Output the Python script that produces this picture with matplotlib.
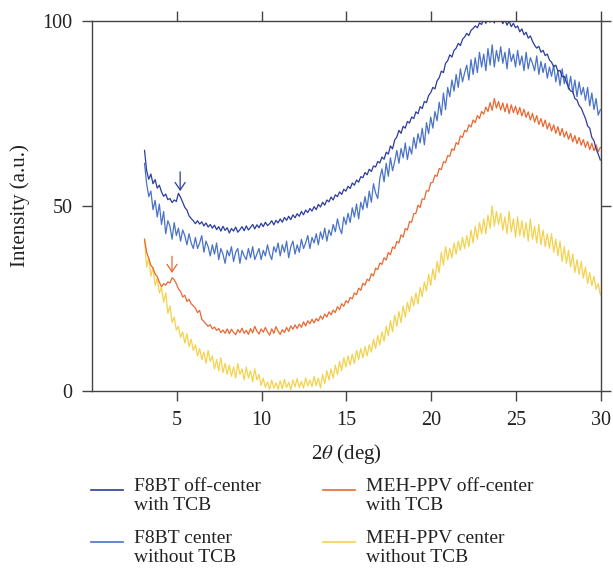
import numpy as np
import matplotlib
matplotlib.use('Agg')
import matplotlib.pyplot as plt
from matplotlib.lines import Line2D

plt.rcParams['font.family'] = ['Liberation Serif', 'DejaVu Serif']
plt.rcParams['mathtext.fontset'] = 'stix'

# 2theta scan grid (deg), 8 points per degree
two_theta = np.arange(3.1, 30.0, 0.125)

f8bt_off = [
    65.0, 59.5, 57.2, 58.6, 56.0, 57.1, 54.8, 55.6,
    53.8, 52.6, 53.2, 51.7, 52.0, 50.9, 51.6, 51.2,
    53.4, 52.3, 51.0, 49.6, 48.9, 47.3, 46.6, 46.0,
    45.2, 46.0, 45.1, 45.7, 44.6, 45.4, 44.3, 45.0,
    44.0, 44.8, 43.6, 44.4, 43.2, 44.5, 43.4, 44.1,
    42.7, 43.9, 43.2, 44.3, 42.9, 43.6, 44.4, 43.3,
    44.6, 43.5, 44.2, 45.0, 43.8, 44.9, 44.1, 45.3,
    44.4, 45.6, 44.7, 45.2, 46.0, 44.9, 46.1, 45.4,
    46.5, 45.6, 46.9, 46.1, 47.2, 46.3, 47.6, 46.8,
    47.9, 47.2, 48.5, 47.6, 48.9, 48.2, 49.3, 48.6,
    49.8, 49.0, 50.4, 49.7, 51.0, 50.2, 51.6, 51.1,
    52.4, 51.6, 53.0, 52.5, 53.8, 53.1, 54.5, 54.0,
    55.3, 54.7, 56.2, 55.6, 57.0, 56.4, 57.9, 57.6,
    59.0, 58.4, 59.9, 59.3, 60.8, 60.5, 62.0, 61.6,
    63.2, 62.6, 64.5, 64.0, 66.2, 65.4, 67.8, 68.6,
    70.4, 69.6, 71.5, 71.0, 72.8, 72.4, 74.0, 73.6,
    75.4, 74.9, 76.8, 76.3, 78.2, 77.9, 79.8, 80.6,
    82.0, 81.6, 83.8, 84.6, 86.4, 86.0, 88.5, 89.2,
    90.8, 90.2, 92.0, 92.6, 93.9, 93.3, 95.0, 95.6,
    96.6, 96.0, 97.4, 97.9, 98.6, 98.1, 99.4, 99.0,
    100.4, 99.3, 100.8, 99.6, 100.9, 99.4, 101.0, 99.8,
    100.6, 99.2, 100.3, 98.8, 99.9, 98.4, 99.3, 98.1,
    98.6, 97.0, 97.8, 96.2, 96.9, 95.3, 95.9, 94.5,
    93.4, 92.6, 93.1, 91.5, 92.0, 90.6, 91.0, 89.4,
    88.8, 87.6, 88.0, 86.4, 86.6, 84.9, 85.0, 83.4,
    82.0, 81.0, 80.9, 79.0, 78.6, 77.1, 76.4, 75.0,
    73.6, 71.6, 71.0, 68.5, 67.6, 65.4, 64.0, 62.4,
]

f8bt_center = [
    61.5, 56.0, 52.5, 54.0, 49.0, 51.5, 47.0, 50.5,
    45.0, 48.5, 42.5, 46.0, 44.5, 41.0, 45.5, 42.0,
    44.0, 40.5, 43.5, 42.0, 39.5, 42.5, 40.0, 38.5,
    41.5, 38.5, 40.0, 42.0, 37.5, 40.5, 39.0, 36.5,
    39.5, 37.0, 40.0, 35.5, 38.5, 37.0, 34.5, 38.0,
    36.5, 39.0, 35.0, 37.5, 38.5, 34.5, 38.0, 36.5,
    35.5, 38.5, 36.0, 39.0, 35.5, 37.0, 38.5, 35.5,
    38.0, 36.5, 39.5, 37.0, 35.5, 39.0, 37.5, 40.0,
    36.5, 39.5, 37.5, 40.5, 36.0, 39.0, 40.5, 37.0,
    39.5, 37.5, 41.0, 38.5, 40.0, 42.0, 38.5, 41.5,
    40.0, 42.5, 39.5, 43.0, 41.0, 44.0, 40.5, 43.5,
    42.0, 45.0, 43.0, 46.5, 44.0, 42.5, 47.0, 45.0,
    48.0, 45.5, 49.5, 47.0, 50.5, 46.5, 51.0, 49.0,
    52.5, 49.5, 54.0, 51.0, 56.0, 53.5, 52.0, 57.5,
    60.0, 56.5, 61.5, 58.0, 63.0, 59.5, 62.0, 65.0,
    61.5, 65.5, 63.0, 67.0, 62.5, 66.0, 64.0, 68.5,
    65.5, 69.5, 67.0, 71.0, 66.5, 72.5, 69.5, 74.0,
    71.0, 75.5, 73.0, 78.0, 74.5, 80.5, 76.0, 82.0,
    79.5, 84.0, 81.0, 85.5, 82.0, 87.0, 83.5, 86.0,
    88.0, 84.0, 89.5, 85.5, 90.0, 86.0, 91.5, 87.5,
    91.0, 86.5, 92.5, 88.0, 93.5, 87.5, 92.0, 89.0,
    93.0, 88.5, 91.5, 87.0, 92.5, 89.0, 91.0, 87.5,
    92.0, 88.0, 90.5, 86.5, 91.5, 87.0, 90.0, 88.5,
    86.5, 90.5, 85.5, 89.0, 86.0, 88.5, 84.5, 87.5,
    85.0, 88.0, 83.5, 86.5, 82.5, 87.0, 83.0, 85.5,
    81.5, 85.0, 80.5, 84.0, 79.5, 83.5, 80.0, 82.0,
    78.5, 82.0, 77.0, 80.5, 76.0, 79.0, 74.5, 76.0,
]

meh_off = [
    41.0, 37.5, 35.8, 34.0, 33.2, 31.6, 30.9, 29.4,
    28.2, 29.0, 28.6, 29.5, 29.2, 30.6, 30.1, 29.0,
    27.6, 26.9, 25.4, 25.9, 24.2, 24.8, 23.6, 23.0,
    22.4, 21.2, 21.8, 19.4, 18.8, 18.1, 17.5, 17.9,
    16.8, 17.3, 16.4, 16.9, 15.8, 16.5, 15.6, 16.8,
    15.5, 16.7, 15.9, 15.2, 16.6, 15.8, 17.0, 15.6,
    16.4, 15.3, 16.9, 15.7, 17.5, 16.2, 15.4, 16.8,
    15.9, 17.2, 16.0, 15.1, 16.8, 15.6, 17.4, 16.2,
    15.3, 16.6, 15.8, 17.2, 16.1, 17.6, 16.7, 17.9,
    16.9, 18.1, 17.2, 18.7, 17.6, 19.0, 18.2, 19.4,
    18.4, 19.6, 18.9, 20.3, 19.4, 20.8, 20.0, 21.4,
    20.6, 21.9, 21.2, 22.8, 22.0, 23.6, 22.9, 24.4,
    23.8, 25.3, 24.9, 26.5, 26.0, 27.8, 27.2, 29.1,
    28.6, 30.2, 29.8, 31.7, 31.1, 33.2, 32.8, 34.6,
    34.2, 36.0, 35.4, 37.4, 36.8, 38.9, 38.5, 40.4,
    40.0, 42.2, 41.6, 43.9, 43.5, 45.8, 45.6, 47.9,
    48.0, 50.2, 49.6, 51.9, 51.8, 54.1, 54.0, 56.2,
    56.4, 58.3, 58.0, 60.1, 59.8, 61.9, 61.7, 63.6,
    63.4, 65.4, 65.0, 67.1, 66.6, 68.9, 68.5, 70.4,
    70.0, 71.9, 71.3, 73.2, 72.5, 74.4, 73.6, 75.5,
    74.8, 76.7, 75.5, 77.9, 75.8, 79.0, 76.4, 78.2,
    75.9, 77.8, 75.4, 77.6, 74.9, 77.3, 75.2, 76.9,
    74.7, 76.6, 74.3, 76.1, 73.9, 75.4, 73.2, 75.0,
    72.6, 74.4, 72.0, 73.6, 71.4, 73.2, 70.8, 72.4,
    70.2, 71.9, 69.6, 71.4, 69.0, 70.9, 68.6, 70.1,
    68.0, 69.6, 67.3, 69.0, 66.8, 68.5, 66.4, 67.9,
    65.8, 67.4, 65.2, 66.9, 64.9, 66.5, 64.6, 65.8,
]

meh_center = [
    41.0, 33.5, 36.0, 31.0, 33.5, 28.5, 30.5, 26.5,
    28.0, 24.0, 26.5, 21.0, 23.0, 18.5, 20.0, 16.5,
    17.5, 14.5, 16.0, 13.0, 15.5, 12.0, 14.0, 11.0,
    12.5, 9.5, 11.5, 8.5, 10.5, 7.5, 11.0, 8.0,
    9.5, 6.0, 8.5, 5.5, 9.0, 5.0, 7.5, 4.5,
    7.0, 4.0, 6.5, 3.5, 7.5, 4.5, 6.0, 3.0,
    6.5, 3.5, 5.5, 2.5, 6.0, 3.0, 4.5, 1.5,
    3.5, 1.0, 2.5, 0.5, 3.0, 0.8, 2.2, 0.5,
    2.8, 0.6, 3.2, 1.0, 2.4, 0.4, 3.0, 1.2,
    3.4, 1.0, 2.6, 0.8, 3.6, 1.4, 3.0, 1.2,
    4.0, 1.5, 3.5, 0.8, 4.5, 2.0, 5.5, 3.0,
    6.0, 3.5, 7.0, 4.5, 8.0, 5.5, 9.0, 6.5,
    9.5, 7.0, 10.0, 7.5, 11.0, 8.5, 11.5, 9.0,
    12.0, 9.5, 12.5, 10.5, 14.0, 11.5, 15.0, 12.5,
    16.0, 13.5, 17.5, 15.0, 19.0, 16.0, 20.5, 17.5,
    21.5, 18.5, 23.0, 20.0, 24.0, 21.5, 25.5, 23.0,
    26.5, 23.5, 28.0, 25.5, 29.5, 27.0, 31.5, 28.5,
    33.0, 30.0, 35.0, 32.0, 37.5, 34.0, 39.0, 35.5,
    38.5, 36.0, 40.0, 37.0, 40.5, 38.0, 41.5, 38.5,
    42.0, 39.0, 43.5, 40.0, 44.5, 41.0, 45.5, 42.5,
    46.5, 42.5, 47.5, 44.0, 50.0, 44.5, 48.5, 45.0,
    48.0, 43.5, 47.0, 42.5, 48.5, 43.0, 46.5, 41.5,
    47.0, 42.0, 46.0, 41.5, 45.5, 40.5, 46.5, 41.0,
    44.5, 40.0, 45.0, 39.5, 43.5, 39.0, 42.5, 38.5,
    42.5, 37.5, 41.0, 36.5, 40.5, 35.0, 39.0, 34.5,
    38.0, 33.5, 37.0, 32.0, 35.5, 31.5, 35.0, 30.5,
    33.5, 29.0, 32.0, 28.5, 31.0, 27.5, 29.0, 26.0,
]

labels = ['F8BT off-center\nwith TCB', 'F8BT center\nwithout TCB',
          'MEH-PPV off-center\nwith TCB', 'MEH-PPV center\nwithout TCB']
colors = ['#2c3c9c', '#4a72c6', '#ea6830', '#f4d24e']
series = [f8bt_off, f8bt_center, meh_off, meh_center]

fig = plt.figure(figsize=(6.13, 5.76), dpi=100)
ax = fig.add_axes([0.150, 0.321, 0.830, 0.643])

# draw back-to-front like the original
for ys, c in zip(series[::-1], colors[::-1]):
    ax.plot(two_theta, ys, color=c, lw=0.9)

arrow = '->,head_length=0.45,head_width=0.3'
ax.annotate('', xy=(5.2, 54.0), xytext=(5.2, 59.2),
            arrowprops=dict(arrowstyle=arrow, color=colors[0], lw=0.9,
                            mutation_scale=12, shrinkA=0, shrinkB=0))
ax.annotate('', xy=(4.72, 31.9), xytext=(4.72, 36.4),
            arrowprops=dict(arrowstyle=arrow, color=colors[2], lw=0.9,
                            mutation_scale=12, shrinkA=0, shrinkB=0))

ax.set_xlim(0, 30)
ax.set_ylim(0, 100)
ax.set_xticks([5, 10, 15, 20, 25, 30])
ax.set_yticks([0, 50, 100])
for s in ax.spines.values():
    s.set_color('#444444')
    s.set_linewidth(1.0)
ax.tick_params(direction='out', length=7, width=1.0, color='#444444',
               labelsize=14.5, labelcolor='#222222', top=True, right=True,
               pad=7)
ax.set_xlabel(r'2$\theta$ (deg)', fontsize=15, labelpad=9, color='#222222')
ax.set_ylabel('Intensity (a.u.)', fontsize=15, labelpad=9, color='#222222')

# legend, two columns below the axes
cols_x = [91 / 613, 323 / 613]
rows_y = [1 - 490 / 576, 1 - 542 / 576]
for k, (lab, c) in enumerate(zip(labels, colors)):
    col, row = k // 2, k % 2
    x0, y0 = cols_x[col], rows_y[row]
    fig.add_artist(Line2D([x0, x0 + 32 / 613], [y0, y0], color=c, lw=1.2))
    fig.text(x0 + 43 / 613, y0 + 12 / 576, lab, fontsize=14, va='top',
             ha='left', color='#222222', linespacing=1.15)

fig.savefig('out.png', dpi=100)
